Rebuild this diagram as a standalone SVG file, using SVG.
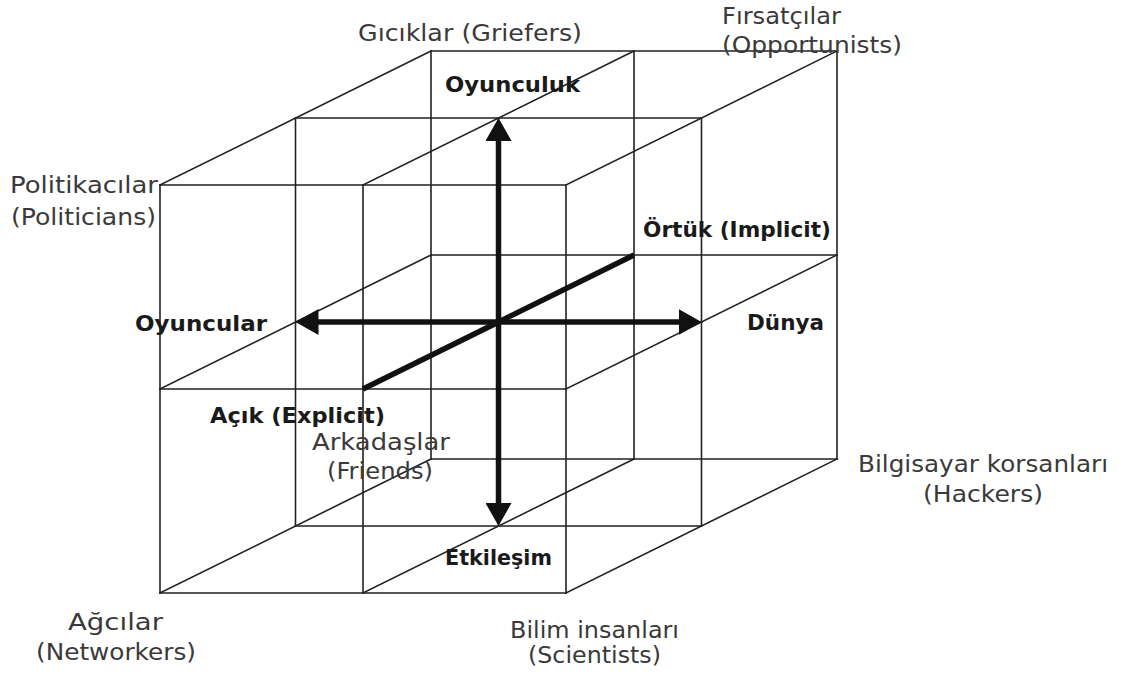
<svg xmlns="http://www.w3.org/2000/svg" width="1123" height="678" viewBox="0 0 1123 678">
<style>
.g{stroke:#222;stroke-width:1.6;fill:none;stroke-linecap:square}
.ax{stroke:#111;stroke-width:5.5;fill:none}
.lbl{font-family:"DejaVu Sans","Liberation Sans",sans-serif;font-size:23px;fill:#3a3a3a}
.b{font-family:"DejaVu Sans","Liberation Sans",sans-serif;font-size:22px;font-weight:bold;fill:#1a1a1a}
</style>
<defs>
<marker id="ah" viewBox="0 0 23 26" markerWidth="23" markerHeight="26" markerUnits="userSpaceOnUse" refX="13" refY="13" orient="auto-start-reverse">
<path d="M0,0 L23,13 L0,26 z" fill="#111"/>
</marker>
</defs>
<rect width="1123" height="678" fill="#fff"/>
<g id="connectors">
<g id="grid">
<path class="g" d="M160,185H566M160,389H566M160,593H566"/>
<path class="g" d="M295.5,118H701.5M295.5,322H701.5M295.5,526H701.5"/>
<path class="g" d="M431,51H837M431,255H837M431,459H837"/>
<path class="g" d="M160,185V593M363,185V593M566,185V593"/>
<path class="g" d="M295.5,118V526M498.5,118V526M701.5,118V526"/>
<path class="g" d="M431,51V459M634,51V459M837,51V459"/>
<path class="g" d="M160,185l271,-134M363,185l271,-134M566,185l271,-134"/>
<path class="g" d="M160,389l271,-134M363,389l271,-134M566,389l271,-134"/>
<path class="g" d="M160,593l271,-134M363,593l271,-134M566,593l271,-134"/>
</g>
<g id="axes">
<line class="ax" x1="305.5" y1="322" x2="691.5" y2="322" marker-start="url(#ah)" marker-end="url(#ah)"/>
<line class="ax" x1="498.5" y1="128" x2="498.5" y2="516" marker-start="url(#ah)" marker-end="url(#ah)"/>
<line class="ax" x1="363" y1="389" x2="634" y2="255"/>
</g>
</g>
<g id="griefers"><text class="lbl" x="358" y="41" textLength="224" lengthAdjust="spacingAndGlyphs">Gıcıklar (Griefers)</text></g>
<g id="opportunists"><text class="lbl" x="722" y="24" textLength="119" lengthAdjust="spacingAndGlyphs">Fırsatçılar</text><text class="lbl" x="722" y="53" textLength="180" lengthAdjust="spacingAndGlyphs">(Opportunists)</text></g>
<g id="politicians"><text class="lbl" x="10" y="193" textLength="148" lengthAdjust="spacingAndGlyphs">Politikacılar</text><text class="lbl" x="11" y="225" textLength="145" lengthAdjust="spacingAndGlyphs">(Politicians)</text></g>
<g id="friends"><text class="lbl" x="312" y="450" textLength="138" lengthAdjust="spacingAndGlyphs">Arkadaşlar</text><text class="lbl" x="327" y="479" textLength="106" lengthAdjust="spacingAndGlyphs">(Friends)</text></g>
<g id="hackers"><text class="lbl" x="858" y="472" textLength="250" lengthAdjust="spacingAndGlyphs">Bilgisayar korsanları</text><text class="lbl" x="923" y="502" textLength="120" lengthAdjust="spacingAndGlyphs">(Hackers)</text></g>
<g id="networkers"><text class="lbl" x="68" y="630" textLength="95" lengthAdjust="spacingAndGlyphs">Ağcılar</text><text class="lbl" x="36" y="660" textLength="160" lengthAdjust="spacingAndGlyphs">(Networkers)</text></g>
<g id="scientists"><text class="lbl" x="510" y="638" textLength="169" lengthAdjust="spacingAndGlyphs">Bilim insanları</text><text class="lbl" x="528" y="663" textLength="133" lengthAdjust="spacingAndGlyphs">(Scientists)</text></g>
<g id="axis-labels">
<text class="b" x="445" y="92" textLength="135" lengthAdjust="spacingAndGlyphs">Oyunculuk</text>
<text class="b" x="643" y="237" textLength="188" lengthAdjust="spacingAndGlyphs">Örtük (Implicit)</text>
<text class="b" x="135" y="331" textLength="132" lengthAdjust="spacingAndGlyphs">Oyuncular</text>
<text class="b" x="747" y="330" textLength="77" lengthAdjust="spacingAndGlyphs">Dünya</text>
<text class="b" x="210" y="423" textLength="175" lengthAdjust="spacingAndGlyphs">Açık (Explicit)</text>
<text class="b" x="445" y="565" textLength="107" lengthAdjust="spacingAndGlyphs">Etkileşim</text>
</g>
</svg>
